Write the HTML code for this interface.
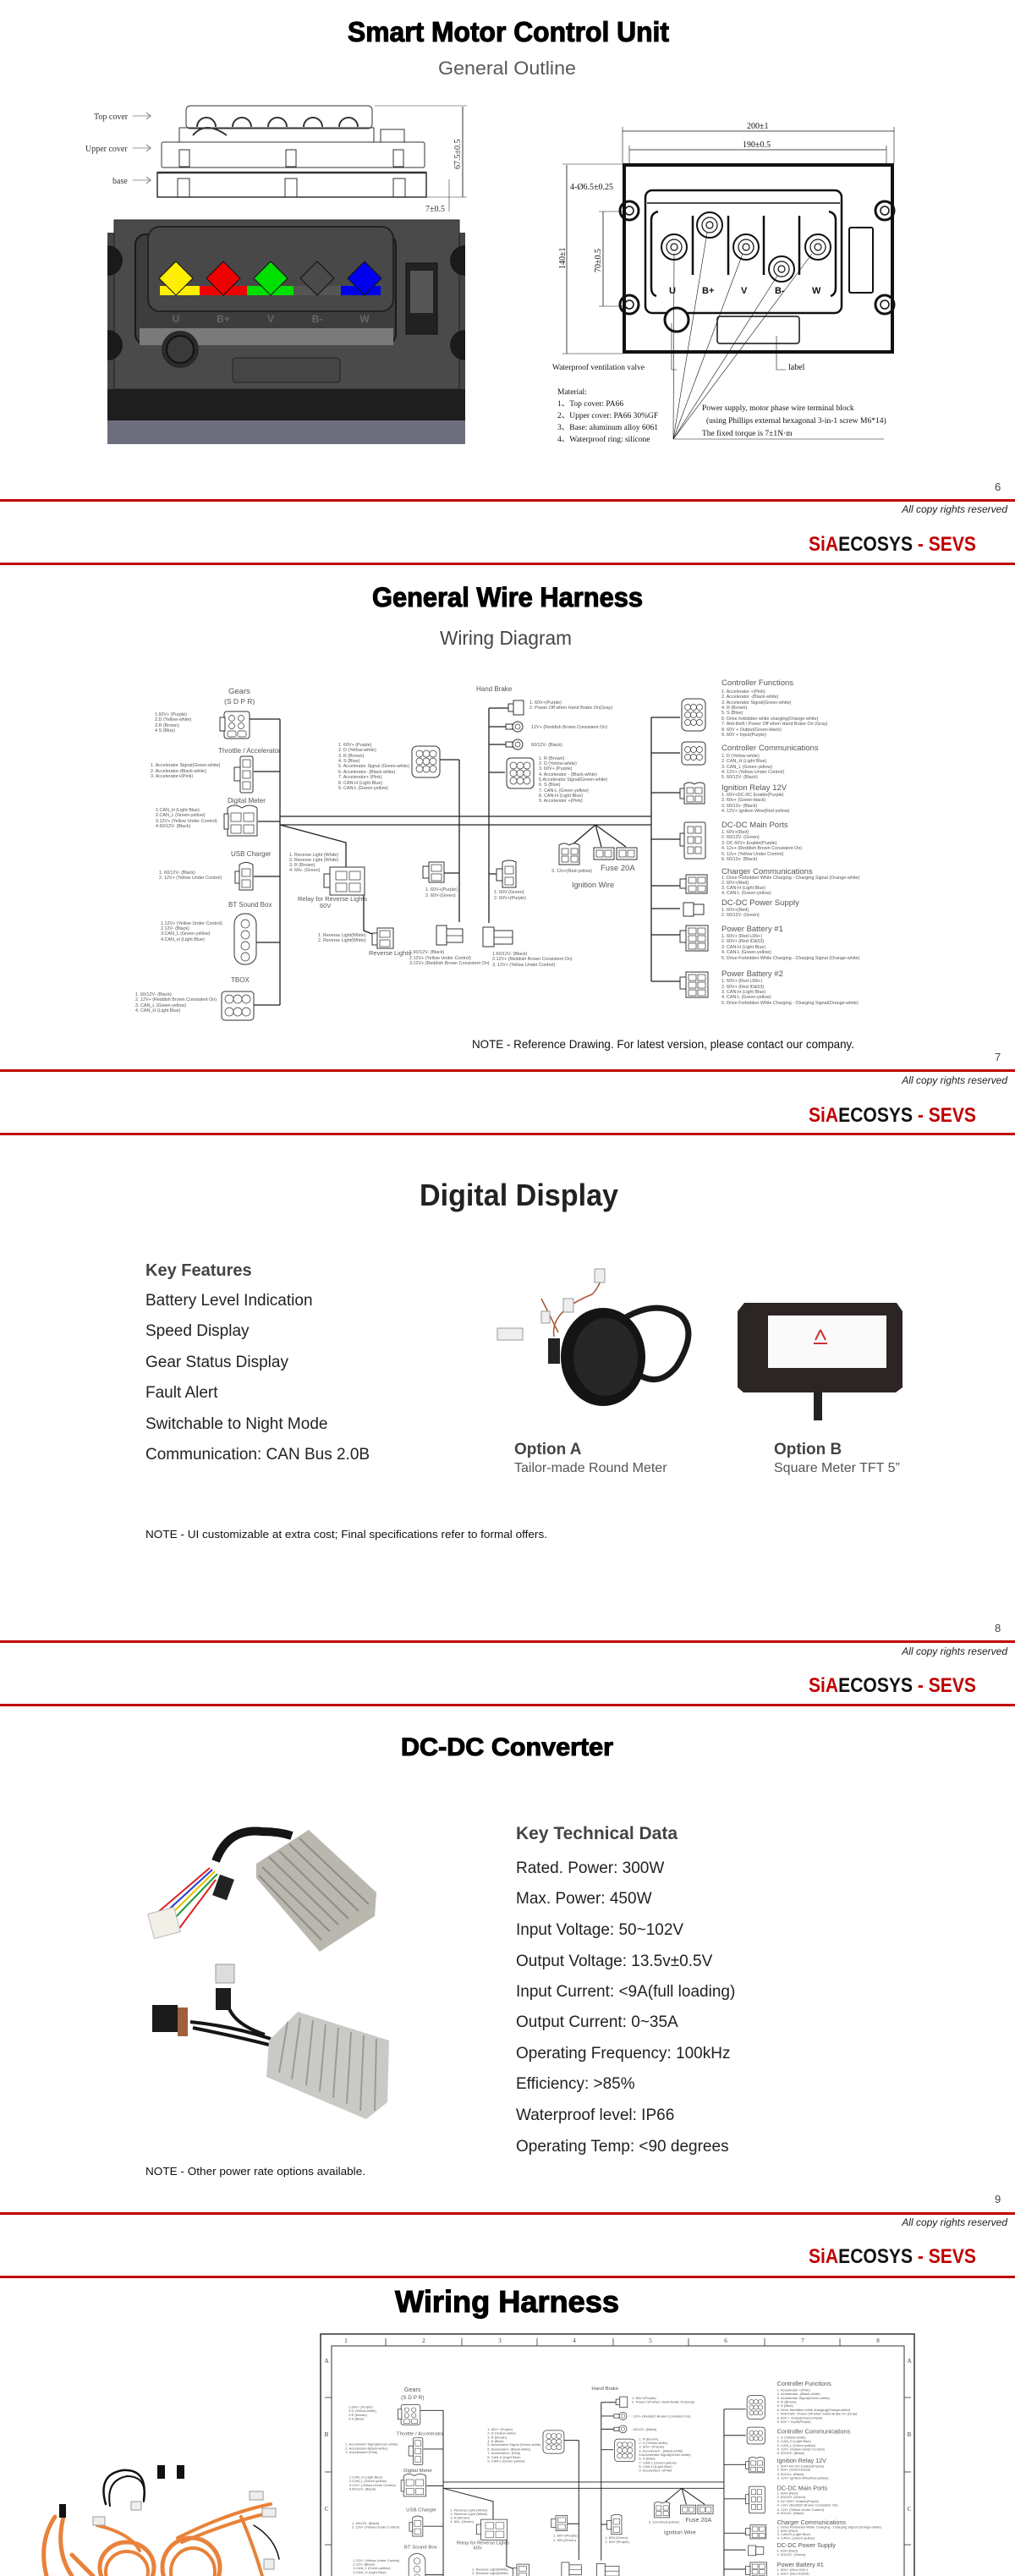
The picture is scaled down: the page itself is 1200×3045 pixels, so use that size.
<!DOCTYPE html>
<html><head><meta charset="utf-8">
<style>
html,body{margin:0;padding:0;background:#fff;}
svg{display:block;}
.t{font-family:"Liberation Sans",sans-serif;}
.s{font-family:"Liberation Serif",serif;}
.h{font-family:"Liberation Sans",sans-serif;font-weight:bold;}
.hv{stroke:#000;stroke-width:1.1;}
.it{font-family:"Liberation Sans",sans-serif;font-size:5.4px;fill:#555;}
.tt{font-family:"Liberation Sans",sans-serif;font-size:9.5px;fill:#555;}
.ln{stroke:#222;stroke-width:1.3;fill:none;}
.cn{stroke:#333;stroke-width:1;fill:#fff;}
.cs{stroke:#333;stroke-width:.7;fill:#fff;}
</style></head>
<body>
<svg width="1200" height="3045" viewBox="0 0 1200 3045" xmlns="http://www.w3.org/2000/svg">
<defs>
<clipPath id="fr"><rect x="392" y="2773" width="677" height="272"/></clipPath>
</defs>

<!-- ============ PAGE 1 ============ -->
<text class="h hv" x="411" y="49" font-size="33" textLength="380" lengthAdjust="spacingAndGlyphs" fill="#000">Smart Motor Control Unit</text>
<text class="t" x="518" y="88" font-size="22" textLength="163" lengthAdjust="spacingAndGlyphs" fill="#595959">General Outline</text>

<!-- side view drawing -->
<g stroke="#333" stroke-width="1" fill="none">
<rect x="220" y="125" width="220" height="27" rx="5"/>
<path d="M233 150 a11 11 0 0 1 22 0 M275 150 a11 11 0 0 1 22 0 M317 150 a11 11 0 0 1 22 0 M359 150 a11 11 0 0 1 22 0 M401 150 a11 11 0 0 1 22 0" stroke-width="2"/>
<rect x="212" y="151" width="230" height="17"/>
<rect x="450" y="153" width="28" height="15"/>
<rect x="191" y="168" width="311" height="30" rx="2"/>
<rect x="186" y="204" width="318" height="29" stroke-width="1.5"/>
<line x1="186" y1="204" x2="504" y2="204" stroke-width="2.5"/>
<rect x="212" y="177" width="12" height="20"/><rect x="338" y="177" width="12" height="20"/><rect x="465" y="177" width="12" height="20"/>
<rect x="210" y="211" width="14" height="22"/><rect x="337" y="211" width="14" height="22"/><rect x="465" y="211" width="14" height="22"/>
<path d="M228 160 q15 -18 40 0" stroke-width="2"/>
<line x1="443" y1="125" x2="552" y2="125" stroke-width=".6"/>
<line x1="504" y1="233" x2="552" y2="233" stroke-width=".6"/>
<line x1="547" y1="126" x2="547" y2="233"/>
<line x1="531" y1="212" x2="531" y2="250" stroke-width=".6"/>
<line x1="157" y1="137" x2="178" y2="137" stroke-width=".6"/><path d="M173 133 L178 137 L173 141" stroke-width=".6"/>
<line x1="157" y1="175" x2="178" y2="175" stroke-width=".6"/><path d="M173 171 L178 175 L173 179" stroke-width=".6"/>
<line x1="157" y1="213" x2="178" y2="213" stroke-width=".6"/><path d="M173 209 L178 213 L173 217" stroke-width=".6"/>
</g>
<text class="s" x="111" y="141" font-size="10" fill="#333">Top cover</text>
<text class="s" x="101" y="179" font-size="10" fill="#333">Upper cover</text>
<text class="s" x="133" y="217" font-size="10" fill="#333">base</text>
<text class="s" font-size="10" fill="#333" transform="translate(544,200) rotate(-90)">67.5±0.5</text>
<text class="s" x="503" y="250" font-size="10" fill="#333">7±0.5</text>

<!-- dark controller -->
<rect x="127" y="275" width="423" height="250" fill="#444"/>
<rect x="135" y="260" width="408" height="200" fill="#4a4a4a" stroke="#222"/>
<rect x="127" y="460" width="423" height="37" fill="#1e1e1e"/>
<rect x="127" y="497" width="423" height="28" fill="#6d6f7e"/>
<rect x="160" y="277" width="308" height="130" rx="12" fill="#3d3d3d" stroke="#1a1a1a" stroke-width="2"/>
<rect x="175" y="268" width="290" height="100" rx="14" fill="#484848" stroke="#222" stroke-width="2"/>
<rect x="165" y="388" width="300" height="20" fill="#7a7a7a"/>
<rect x="189" y="338" width="47" height="11" fill="#ffee00"/>
<rect x="236" y="338" width="56" height="11" fill="#f00000"/>
<rect x="292" y="338" width="55" height="11" fill="#00e000"/>
<rect x="347" y="338" width="56" height="11" fill="#555"/>
<rect x="403" y="338" width="47" height="11" fill="#0000ee"/>
<g stroke="#111" stroke-width="1">
<path d="M208 309 l20 20 l-20 20 l-20 -20z" fill="#ffee00"/>
<path d="M264 309 l20 20 l-20 20 l-20 -20z" fill="#f00000"/>
<path d="M320 309 l20 20 l-20 20 l-20 -20z" fill="#00e000"/>
<path d="M375 309 l20 20 l-20 20 l-20 -20z" fill="#4a4a4a"/>
<path d="M431 309 l20 20 l-20 20 l-20 -20z" fill="#0000ee"/>
</g>
<g class="t" font-size="12" font-weight="bold" fill="#666" text-anchor="middle">
<text x="208" y="381">U</text><text x="264" y="381">B+</text><text x="320" y="381">V</text><text x="375" y="381">B-</text><text x="431" y="381">W</text>
</g>
<rect x="480" y="311" width="37" height="84" fill="#222" stroke="#111"/>
<rect x="485" y="320" width="27" height="50" fill="#555"/>
<circle cx="213" cy="413" r="22" fill="#2a2a2a"/><circle cx="213" cy="413" r="16" fill="#3a3a3a" stroke="#111" stroke-width="2"/>
<rect x="275" y="423" width="127" height="29" rx="4" fill="#454545" stroke="#222"/>
<path d="M127 290 a18 18 0 0 1 18 18 a18 18 0 0 1 -18 18z M127 390 a18 18 0 0 1 18 18 a18 18 0 0 1 -18 18z M550 290 a18 18 0 0 0 -18 18 a18 18 0 0 0 18 18z M550 390 a18 18 0 0 0 -18 18 a18 18 0 0 0 18 18z" fill="#1a1a1a"/>

<!-- technical drawing -->
<g stroke="#111" fill="none">
<rect x="738" y="195" width="317" height="221" stroke-width="4"/>
<rect x="763" y="225" width="232" height="145" rx="8" stroke-width="2.5"/>
<line x1="765" y1="240" x2="993" y2="240" stroke-width="1.5"/>
<line x1="736" y1="155" x2="1057" y2="155" stroke-width=".8"/>
<line x1="744" y1="177" x2="1048" y2="177" stroke-width=".8"/>
<line x1="736" y1="150" x2="736" y2="193" stroke-width=".6"/><line x1="1057" y1="150" x2="1057" y2="193" stroke-width=".6"/>
<line x1="744" y1="172" x2="744" y2="193" stroke-width=".6"/><line x1="1048" y1="172" x2="1048" y2="193" stroke-width=".6"/>
<line x1="670" y1="195" x2="670" y2="418" stroke-width=".8"/>
<line x1="665" y1="194" x2="736" y2="194" stroke-width=".5"/><line x1="665" y1="418" x2="736" y2="418" stroke-width=".5"/>
<line x1="713" y1="250" x2="713" y2="362" stroke-width=".8"/>
<line x1="708" y1="250" x2="740" y2="250" stroke-width=".5"/><line x1="708" y1="362" x2="740" y2="362" stroke-width=".5"/>
<g stroke-width="2"><circle cx="797" cy="292" r="15"/><circle cx="839" cy="266" r="15"/><circle cx="882" cy="292" r="15"/><circle cx="924" cy="318" r="15"/><circle cx="967" cy="292" r="15"/></g>
<g stroke-width="1.2"><circle cx="797" cy="292" r="9"/><circle cx="839" cy="266" r="9"/><circle cx="882" cy="292" r="9"/><circle cx="924" cy="318" r="9"/><circle cx="967" cy="292" r="9"/>
<circle cx="797" cy="292" r="4"/><circle cx="839" cy="266" r="4"/><circle cx="882" cy="292" r="4"/><circle cx="924" cy="318" r="4"/><circle cx="967" cy="292" r="4"/></g>
<line x1="819" y1="255" x2="819" y2="325" stroke-width="2.5"/><line x1="861" y1="255" x2="861" y2="325" stroke-width="2.5"/><line x1="903" y1="255" x2="903" y2="325" stroke-width="2.5"/><line x1="945" y1="255" x2="945" y2="325" stroke-width="2.5"/>
<path d="M778 250 q-8 2 -8 10 v80 q0 8 6 10" stroke-width="2.5"/><path d="M980 250 q8 2 8 10 v80 q0 8 -6 10" stroke-width="2.5"/>
<rect x="1004" y="269" width="28" height="77" rx="2" stroke-width="2"/>
<g stroke-width="3"><circle cx="744" cy="249" r="11"/><circle cx="744" cy="360" r="11"/><circle cx="1046" cy="249" r="11"/><circle cx="1046" cy="360" r="11"/></g>
<g stroke-width="1.5"><circle cx="744" cy="249" r="5"/><circle cx="744" cy="360" r="5"/><circle cx="1046" cy="249" r="5"/><circle cx="1046" cy="360" r="5"/></g>
<circle cx="800" cy="378" r="14" stroke-width="3" fill="#fff"/>
<rect x="848" y="374" width="97" height="32" rx="3" stroke-width="1.5"/>
<g stroke-width=".6"><line x1="796" y1="519" x2="797" y2="300"/><line x1="796" y1="519" x2="836" y2="275"/><line x1="796" y1="519" x2="878" y2="300"/><line x1="796" y1="519" x2="919" y2="326"/><line x1="796" y1="519" x2="960" y2="300"/><line x1="796" y1="519" x2="1045" y2="519"/>
<path d="M800 437 h-6 v-55"/><path d="M929 437 h-11 v-40"/></g>
</g>
<g class="t" font-size="11" font-weight="bold" fill="#111"><text x="791" y="347">U</text><text x="830" y="347">B+</text><text x="876" y="347">V</text><text x="916" y="347">B-</text><text x="960" y="347">W</text></g>
<g class="s" font-size="10" fill="#111">
<text x="883" y="152">200±1</text><text x="878" y="174">190±0.5</text>
<text x="674" y="224">4-Ø6.5±0.25</text>
<text transform="translate(668,318) rotate(-90)">140±1</text>
<text transform="translate(710,322) rotate(-90)">70±0.5</text>
<text x="653" y="437" font-size="9.5">Waterproof ventilation valve</text>
<text x="932" y="437">label</text>
<text x="659" y="466" font-size="9.5">Material:</text>
<text x="659" y="480" font-size="9.5">1、Top cover: PA66</text>
<text x="659" y="494" font-size="9.5">2、Upper cover: PA66 30%GF</text>
<text x="659" y="508" font-size="9.5">3、Base: aluminum alloy 6061</text>
<text x="659" y="522" font-size="9.5">4、Waterproof ring: silicone</text>
<text x="830" y="485" font-size="9.5">Power supply, motor phase wire terminal block</text>
<text x="835" y="500" font-size="9.5">(using Phillips external hexagonal 3-in-1 screw M6*14)</text>
<text x="830" y="515" font-size="9.5">The fixed torque is 7±1N·m</text>
</g>

<!-- footers -->
<g id="footers">
<g class="t" font-size="13" fill="#444"><text x="1176" y="580">6</text><text x="1176" y="1254">7</text><text x="1176" y="1929">8</text><text x="1176" y="2604">9</text></g>
<g fill="#c00000">
<rect x="0" y="590" width="1200" height="3"/><rect x="0" y="665" width="1200" height="3"/>
<rect x="0" y="1264" width="1200" height="3"/><rect x="0" y="1339" width="1200" height="3"/>
<rect x="0" y="1939" width="1200" height="3"/><rect x="0" y="2014" width="1200" height="3"/>
<rect x="0" y="2615" width="1200" height="3"/><rect x="0" y="2690" width="1200" height="3"/>
</g>
<g class="t" font-size="12" font-style="italic" fill="#222" text-anchor="end">
<text x="1191" y="606">All copy rights reserved</text><text x="1191" y="1281">All copy rights reserved</text>
<text x="1191" y="1956">All copy rights reserved</text><text x="1191" y="2631">All copy rights reserved</text>
</g>
<g class="h" font-size="24">
<text x="956" y="651" textLength="198" lengthAdjust="spacingAndGlyphs"><tspan fill="#c00000">SiA</tspan><tspan fill="#111">ECOSYS</tspan><tspan fill="#c00000"> - SEVS</tspan></text>
<text x="956" y="1326" textLength="198" lengthAdjust="spacingAndGlyphs"><tspan fill="#c00000">SiA</tspan><tspan fill="#111">ECOSYS</tspan><tspan fill="#c00000"> - SEVS</tspan></text>
<text x="956" y="2000" textLength="198" lengthAdjust="spacingAndGlyphs"><tspan fill="#c00000">SiA</tspan><tspan fill="#111">ECOSYS</tspan><tspan fill="#c00000"> - SEVS</tspan></text>
<text x="956" y="2675" textLength="198" lengthAdjust="spacingAndGlyphs"><tspan fill="#c00000">SiA</tspan><tspan fill="#111">ECOSYS</tspan><tspan fill="#c00000"> - SEVS</tspan></text>
</g>
</g>

<!-- ============ PAGE 2 ============ -->
<text class="h hv" x="440" y="717" font-size="32" textLength="320" lengthAdjust="spacingAndGlyphs" fill="#000">General Wire Harness</text>
<text class="t" x="520" y="762" font-size="23" textLength="156" lengthAdjust="spacingAndGlyphs" fill="#444">Wiring Diagram</text>

<g id="diag">
<g class="ln">
<path d="M331 850 V1188"/>
<path d="M295 850 H331 M300 912 H331 M305 971 H331 M300 1036 H331 M302 1114 H331 M300 1188 H331"/>
<path d="M331 965 H770 M331 975 H770"/>
<path d="M331 975 L409 996 V1026"/>
<path d="M430 1058 V1100 L440 1104"/>
<path d="M543 898 V1090 M520 898 H543 M525 1032 H543"/>
<path d="M578 837 V1091 M578 837 H601 M578 859 H598 M578 880 H598 M578 913 H597 M578 1033 H587"/>
<path d="M770 848 V1160 M770 848 H804 M770 890 H804 M770 937 H804 M770 992 H804 M770 1047 H804 M770 1074 H804 M770 1105 H804 M770 1160 H804"/>
<path d="M704 975 L676 999 M704 975 L711 1001 M704 975 L740 1001"/>
</g>
<!-- left connectors -->
<rect class="cn" x="265" y="841" width="30" height="32" rx="3"/><rect class="cn" x="260" y="848" width="6" height="16"/>
<g class="cs"><circle cx="274" cy="849" r="3.5"/><circle cx="285" cy="849" r="3.5"/><circle cx="274" cy="858" r="3.5"/><circle cx="285" cy="858" r="3.5"/><rect x="269" y="864" width="10" height="7" rx="2"/><rect x="281" y="864" width="10" height="7" rx="2"/></g>
<rect class="cn" x="284" y="894" width="15" height="43" rx="2"/><rect class="cn" x="277" y="907" width="7" height="16"/>
<g class="cs"><rect x="287" y="898" width="9" height="9"/><rect x="287" y="911" width="9" height="9"/><rect x="287" y="924" width="9" height="9"/></g>
<path class="cn" d="M269 955 q8 -6 17 0 q9 -6 18 0 v33 h-35z"/><rect class="cn" x="265" y="962" width="5" height="18"/>
<g class="cs"><rect x="273" y="961" width="12" height="10"/><rect x="288" y="961" width="12" height="10"/><rect x="273" y="975" width="12" height="10"/><rect x="288" y="975" width="12" height="10"/></g>
<path class="cn" d="M283 1022 q8 -5 16 0 v30 h-16z"/><rect class="cn" x="278" y="1030" width="5" height="14"/>
<g class="cs"><rect x="286" y="1027" width="10" height="9"/><rect x="286" y="1040" width="10" height="9"/></g>
<rect class="cn" x="277" y="1080" width="26" height="60" rx="12"/>
<g class="cs"><circle cx="290" cy="1092" r="5"/><circle cx="290" cy="1105" r="5"/><circle cx="290" cy="1118" r="5"/><circle cx="290" cy="1131" r="5"/></g>
<rect class="cn" x="262" y="1172" width="38" height="34" rx="4"/>
<g class="cs"><circle cx="271" cy="1181" r="5"/><circle cx="281" cy="1181" r="5"/><circle cx="291" cy="1181" r="5"/><circle cx="271" cy="1196" r="5"/><circle cx="281" cy="1196" r="5"/><circle cx="291" cy="1196" r="5"/></g>
<!-- middle -->
<rect class="cn" x="487" y="882" width="33" height="37" rx="6"/>
<g class="cs"><circle cx="496" cy="891" r="4"/><circle cx="504" cy="891" r="4"/><circle cx="512" cy="891" r="4"/><circle cx="496" cy="900" r="4"/><circle cx="504" cy="900" r="4"/><circle cx="512" cy="900" r="4"/><circle cx="496" cy="909" r="4"/><circle cx="504" cy="909" r="4"/><circle cx="512" cy="909" r="4"/></g>
<rect class="cn" x="607" y="828" width="12" height="17"/><rect class="cn" x="601" y="832" width="6" height="9"/>
<circle class="cn" cx="612" cy="859" r="6"/><circle class="cs" cx="612" cy="859" r="3"/><rect class="cn" x="598" y="856" width="8" height="6"/>
<circle class="cn" cx="612" cy="880" r="6"/><circle class="cs" cx="612" cy="880" r="3"/><rect class="cn" x="598" y="877" width="8" height="6"/>
<rect class="cn" x="599" y="896" width="32" height="36" rx="5"/>
<g class="cs"><circle cx="607" cy="905" r="4"/><circle cx="615" cy="905" r="4"/><circle cx="623" cy="905" r="4"/><circle cx="607" cy="914" r="4"/><circle cx="615" cy="914" r="4"/><circle cx="623" cy="914" r="4"/><circle cx="607" cy="923" r="4"/><circle cx="615" cy="923" r="4"/><circle cx="623" cy="923" r="4"/></g>
<rect class="cn" x="390" y="1025" width="41" height="33"/><rect class="cn" x="383" y="1033" width="7" height="16"/>
<g class="cs"><rect x="397" y="1030" width="13" height="10"/><rect x="413" y="1030" width="13" height="10"/><rect x="397" y="1044" width="13" height="10"/><rect x="413" y="1044" width="13" height="10"/></g>
<rect class="cn" x="446" y="1097" width="19" height="24"/><rect class="cn" x="440" y="1103" width="6" height="14"/>
<g class="cs"><rect x="449" y="1100" width="12" height="8"/><rect x="449" y="1111" width="12" height="8"/></g>
<rect class="cn" x="507" y="1019" width="18" height="24"/><rect class="cn" x="500" y="1024" width="7" height="14"/>
<g class="cs"><rect x="510" y="1022" width="12" height="8"/><rect x="510" y="1033" width="12" height="8"/></g>
<path class="cn" d="M594 1019 q8 -4 16 0 v30 h-16z"/><rect class="cn" x="587" y="1027" width="7" height="14"/>
<g class="cs"><rect x="597" y="1024" width="10" height="9"/><rect x="597" y="1037" width="10" height="9"/></g>
<rect class="cn" x="516" y="1094" width="12" height="23"/><rect class="cn" x="528" y="1098" width="19" height="16"/><line class="cs" x1="528" y1="1106" x2="547" y2="1106"/>
<rect class="cn" x="571" y="1096" width="13" height="23"/><rect class="cn" x="584" y="1100" width="22" height="16"/><line class="cs" x1="584" y1="1108" x2="606" y2="1108"/>
<path class="cn" d="M661 999 q6 -4 12 0 q6 -4 12 0 v23 h-24z"/>
<g class="cs"><rect x="664" y="1003" width="8" height="7"/><rect x="675" y="1003" width="8" height="7"/><rect x="664" y="1012" width="8" height="7"/><rect x="675" y="1012" width="8" height="7"/></g>
<rect class="cn" x="702" y="1002" width="24" height="14"/><rect class="cs" x="705" y="1005" width="8" height="8"/><rect class="cs" x="715" y="1005" width="8" height="8"/>
<rect class="cn" x="729" y="1002" width="24" height="14"/><rect class="cs" x="732" y="1005" width="8" height="8"/><rect class="cs" x="742" y="1005" width="8" height="8"/>
<!-- right connectors -->
<rect class="cn" x="806" y="826" width="28" height="38" rx="6"/>
<g class="cs"><circle cx="813" cy="836" r="3.5"/><circle cx="820" cy="836" r="3.5"/><circle cx="827" cy="836" r="3.5"/><circle cx="813" cy="845" r="3.5"/><circle cx="820" cy="845" r="3.5"/><circle cx="827" cy="845" r="3.5"/><circle cx="813" cy="854" r="3.5"/><circle cx="820" cy="854" r="3.5"/><circle cx="827" cy="854" r="3.5"/></g>
<rect class="cn" x="806" y="877" width="28" height="27" rx="4"/>
<g class="cs"><circle cx="813" cy="886" r="3.5"/><circle cx="820" cy="886" r="3.5"/><circle cx="827" cy="886" r="3.5"/><circle cx="813" cy="895" r="3.5"/><circle cx="820" cy="895" r="3.5"/><circle cx="827" cy="895" r="3.5"/></g>
<path class="cn" d="M809 927 q6 -4 12 0 q6 -4 12 0 v23 h-24z"/><rect class="cn" x="804" y="932" width="5" height="12"/>
<g class="cs"><rect x="812" y="931" width="8" height="7"/><rect x="822" y="931" width="8" height="7"/><rect x="812" y="941" width="8" height="7"/><rect x="822" y="941" width="8" height="7"/></g>
<rect class="cn" x="809" y="972" width="25" height="43" rx="2"/><rect class="cn" x="804" y="985" width="5" height="15"/>
<g class="cs"><rect x="813" y="977" width="7" height="8"/><rect x="822" y="977" width="7" height="8"/><rect x="813" y="989" width="7" height="8"/><rect x="822" y="989" width="7" height="8"/><rect x="813" y="1001" width="7" height="8"/><rect x="822" y="1001" width="7" height="8"/></g>
<rect class="cn" x="811" y="1034" width="25" height="22"/><rect class="cn" x="804" y="1039" width="7" height="11"/>
<g class="cs"><rect x="814" y="1037" width="9" height="7"/><rect x="825" y="1037" width="9" height="7"/><rect x="814" y="1047" width="9" height="7"/><rect x="825" y="1047" width="9" height="7"/></g>
<rect class="cn" x="808" y="1067" width="12" height="16"/><rect class="cn" x="820" y="1069" width="12" height="12"/>
<rect class="cn" x="811" y="1094" width="26" height="30"/><rect class="cn" x="804" y="1100" width="7" height="14"/>
<g class="cs"><rect x="814" y="1097" width="9" height="7"/><rect x="825" y="1097" width="9" height="7"/><rect x="814" y="1106" width="9" height="7"/><rect x="825" y="1106" width="9" height="7"/><rect x="814" y="1115" width="9" height="7"/><rect x="825" y="1115" width="9" height="7"/></g>
<rect class="cn" x="811" y="1149" width="26" height="30"/><rect class="cn" x="804" y="1155" width="7" height="14"/>
<g class="cs"><rect x="814" y="1152" width="9" height="7"/><rect x="825" y="1152" width="9" height="7"/><rect x="814" y="1161" width="9" height="7"/><rect x="825" y="1161" width="9" height="7"/><rect x="814" y="1170" width="9" height="7"/><rect x="825" y="1170" width="9" height="7"/></g>

<!-- labels -->
<g class="tt">
<text x="270" y="820">Gears</text><text x="265" y="832" font-size="8.5">(S D P R)</text>
<text x="258" y="890" font-size="8">Throttle / Accelerator</text>
<text x="269" y="949" font-size="8">Digital Meter</text>
<text x="273" y="1012" font-size="8">USB Charger</text>
<text x="270" y="1072" font-size="8">BT Sound Box</text>
<text x="273" y="1161" font-size="8">TBOX</text>
<text x="563" y="817" font-size="8">Hand Brake</text>
<text x="352" y="1065" font-size="7.5">Relay for Reverse Lights</text><text x="378" y="1073" font-size="7.5">60V</text>
<text x="436" y="1129" font-size="7.5">Reverse Lights</text>
<text x="710" y="1029">Fuse 20A</text>
<text x="676" y="1049" font-size="9">Ignition Wire</text>
<text x="853" y="810">Controller Functions</text>
<text x="853" y="887">Controller Communications</text>
<text x="853" y="934">Ignition Relay 12V</text>
<text x="853" y="978">DC-DC Main Ports</text>
<text x="853" y="1033">Charger Communications</text>
<text x="853" y="1070">DC-DC Power Supply</text>
<text x="853" y="1101">Power Battery #1</text>
<text x="853" y="1154">Power Battery #2</text>
</g>
<g class="it">
<text x="183" y="846">1.60V+ (Purple)</text><text x="183" y="852">2.D (Yellow-white)</text><text x="183" y="859">3.R (Brown)</text><text x="183" y="865">4.S (Blue)</text>
<text x="178" y="906">1. Accelerator Signal(Green-white)</text><text x="178" y="913">2. Accelerator-(Black-white)</text><text x="178" y="919">3. Accelerator+(Pink)</text>
<text x="184" y="959">1.CAN_H (Light Blue)</text><text x="184" y="965">2.CAN_L (Green-yellow)</text><text x="184" y="972">3.12V+ (Yellow Under Control)</text><text x="184" y="978">4.60/12V- (Black)</text>
<text x="188" y="1033">1. 60/12V- (Black)</text><text x="188" y="1039">2. 12V+ (Yellow Under Control)</text>
<text x="190" y="1093">1.12V+ (Yellow Under Control)</text><text x="190" y="1099">2.12V- (Black)</text><text x="190" y="1105">3.CAN_L (Green-yellow)</text><text x="190" y="1112">4.CAN_H (Light Blue)</text>
<text x="160" y="1177">1. 60/12V- (Black)</text><text x="160" y="1183">2. 12V+ (Reddish Brown Consistent On)</text><text x="160" y="1190">3. CAN_L (Green-yellow)</text><text x="160" y="1196">4. CAN_H (Light Blue)</text>
<text x="400" y="882">1. 60V+ (Purple)</text><text x="400" y="888">2. D (Yellow-white)</text><text x="400" y="895">3. R (Brown)</text><text x="400" y="901">4. S (Blue)</text><text x="400" y="907">5. Accelerator Signal (Green-white)</text><text x="400" y="914">6. Accelerator- (Black-white)</text><text x="400" y="920">7. Accelerator+ (Pink)</text><text x="400" y="927">8. CAN-H (Light Blue)</text><text x="400" y="933">9. CAN-L (Green-yellow)</text>
<text x="626" y="832">1. 60V+(Purple)</text><text x="626" y="838">2. Power Off when Hand Brake On(Gray)</text>
<text x="628" y="861">12V+ (Reddish Brown Consistent On)</text><text x="628" y="882">60/12V- (Black)</text>
<text x="637" y="898">1. R (Brown)</text><text x="637" y="904">2. D (Yellow-white)</text><text x="637" y="910">3. 60V+ (Purple)</text><text x="637" y="917">4. Accelerator - (Black-white)</text><text x="637" y="923">5.Accelerator Signal(Green-white)</text><text x="637" y="929">6. S (Blue)</text><text x="637" y="936">7. CAN-L (Green-yellow)</text><text x="637" y="942">8. CAN-H (Light Blue)</text><text x="637" y="948">9. Accelerator +(Pink)</text>
<text x="342" y="1012">1. Reverse Light (White)</text><text x="342" y="1018">2. Reverse Light (White)</text><text x="342" y="1024">3. R (Brown)</text><text x="342" y="1030">4. 60v- (Green)</text>
<text x="376" y="1107">1. Reverse Light(White)</text><text x="376" y="1113">2. Reverse Light(White)</text>
<text x="503" y="1053">1. 60V+(Purple)</text><text x="503" y="1060">2. 60V-(Green)</text>
<text x="584" y="1056">1. 60V-(Green)</text><text x="584" y="1063">2. 60V+(Purple)</text>
<text x="484" y="1127">1.60/12V- (Black)</text><text x="484" y="1134">2.12V+ (Yellow Under Control)</text><text x="484" y="1140">3.12V+ (Reddish Brown Consistent On)</text>
<text x="582" y="1129">1.60/12V- (Black)</text><text x="582" y="1135">2.12V+ (Reddish Brown Consistent On)</text><text x="582" y="1142">3. 12V+ (Yellow Under Control)</text>
<text x="652" y="1031">3. 12v+(Red-yellow)</text>
<text x="853" y="819">1. Accelerator +(Pink)</text><text x="853" y="825">2. Accelerator -(Black-white)</text><text x="853" y="832">3. Accelerator Signal(Green-white)</text><text x="853" y="838">4. R (Brown)</text><text x="853" y="844">5. S (Blue)</text><text x="853" y="851">6. Drive forbidden while charging(Orange-white)</text><text x="853" y="857">7. Anti-theft / Power Off when Hand Brake On (Gray)</text><text x="853" y="864">8. 60V + Output(Green-black)</text><text x="853" y="870">9. 60V + Input(Purple)</text>
<text x="853" y="895">1. D (Yellow-white)</text><text x="853" y="901">2. CAN_H (Light Blue)</text><text x="853" y="908">3. CAN_L (Green-yellow)</text><text x="853" y="914">4. 12V+ (Yellow Under Control)</text><text x="853" y="920">5. 60/12V- (Black)</text>
<text x="853" y="941">1. 60V+DC-DC Enable(Purple)</text><text x="853" y="947">2. 60v+ (Green-black)</text><text x="853" y="954">3. 60/12v- (Black)</text><text x="853" y="960">4. 12V+ Ignition Wire(Red-yellow)</text>
<text x="853" y="985">1. 60V+(Red)</text><text x="853" y="991">2. 60/12V- (Green)</text><text x="853" y="998">3. DC 60V+ Enable(Purple)</text><text x="853" y="1004">4. 12v+ (Reddish Brown Consistent On)</text><text x="853" y="1011">5. 12v+ (Yellow Under Control)</text><text x="853" y="1017">6. 60/12v- (Black)</text>
<text x="853" y="1039">1. Drive Forbidden While Charging - Charging Signal (Orange-white)</text><text x="853" y="1045">2. 60V+(Red)</text><text x="853" y="1051">3. CAN-H (Light Blue)</text><text x="853" y="1057">4. CAN-L (Green-yellow)</text>
<text x="853" y="1077">1. 60V+(Red)</text><text x="853" y="1083">2. 60/12V- (Green)</text>
<text x="853" y="1108">1. 60V+ (Red LD6+)</text><text x="853" y="1114">2. 60V+ (Red ID&amp;53)</text><text x="853" y="1121">3. CAN-H (Light Blue)</text><text x="853" y="1127">4. CAN-L (Green-yellow)</text><text x="853" y="1134">5. Drive Forbidden While Charging - Charging Signal (Orange-white)</text>
<text x="853" y="1161">1. 60V+ (Red LD6+)</text><text x="853" y="1168">2. 60V+ (Red ID&amp;53)</text><text x="853" y="1174">3. CAN-H (Light Blue)</text><text x="853" y="1180">4. CAN-L (Green-yellow)</text><text x="853" y="1187">5. Drive Forbidden While Charging - Charging Signal(Orange-white)</text>
</g>
</g>
<text class="t" x="558" y="1239" font-size="14" textLength="452" lengthAdjust="spacingAndGlyphs" fill="#111">NOTE - Reference Drawing. For latest version, please contact our company.</text>

<!-- ============ PAGE 3 ============ -->
<text class="h" x="496" y="1425" font-size="36" textLength="235" lengthAdjust="spacingAndGlyphs" fill="#222">Digital Display</text>
<text class="h" x="172" y="1508" font-size="20" fill="#444">Key Features</text>
<g class="t" font-size="19" fill="#222">
<text x="172" y="1543">Battery Level Indication</text>
<text x="172" y="1579">Speed Display</text>
<text x="172" y="1616">Gear Status Display</text>
<text x="172" y="1652">Fault Alert</text>
<text x="172" y="1689">Switchable to Night Mode</text>
<text x="172" y="1725">Communication: CAN Bus 2.0B</text>
</g>
<!-- round meter -->
<path d="M735 1560 q40 -25 70 -5 q20 20 -5 60 q-20 25 -45 10" stroke="#1a1a1a" stroke-width="7" fill="none"/>
<ellipse cx="713" cy="1604" rx="50" ry="58" fill="#141414"/>
<ellipse cx="716" cy="1604" rx="38" ry="46" fill="#262626"/>
<path d="M660 1575 q-10 -20 -20 -40 M655 1580 q-5 -30 45 -50 q10 -10 12 -25" stroke="#a53" stroke-width="1.5" fill="none"/>
<rect x="703" y="1500" width="12" height="16" fill="#eee" stroke="#999"/>
<rect x="666" y="1535" width="12" height="16" fill="#eee" stroke="#999"/>
<rect x="640" y="1550" width="10" height="14" fill="#eee" stroke="#999"/>
<rect x="588" y="1570" width="30" height="14" fill="#eee" stroke="#999"/>
<rect x="648" y="1582" width="14" height="30" fill="#222"/>
<!-- square meter -->
<path d="M880 1540 h180 l7 10 v90 l-8 6 h-180 l-7 -6 v-90z" fill="#2b2523"/>
<rect x="908" y="1555" width="140" height="62" fill="#fafafa"/>
<path d="M970 1572 l-6 12 M970 1572 l6 12 M962 1588 h16" stroke="#c33" stroke-width="2" fill="none"/>
<rect x="962" y="1646" width="10" height="33" fill="#222"/>

<text class="h" x="608" y="1719" font-size="19" fill="#444">Option A</text>
<text class="t" x="608" y="1740" font-size="16" fill="#555">Tailor-made Round Meter</text>
<text class="h" x="915" y="1719" font-size="19" fill="#444">Option B</text>
<text class="t" x="915" y="1740" font-size="16" fill="#555">Square Meter TFT 5”</text>
<text class="t" x="172" y="1818" font-size="13" textLength="475" lengthAdjust="spacingAndGlyphs" fill="#111">NOTE - UI customizable at extra cost; Final specifications refer to formal offers.</text>

<!-- ============ PAGE 4 ============ -->
<text class="h hv" x="474" y="2075" font-size="30" textLength="251" lengthAdjust="spacingAndGlyphs" fill="#000">DC-DC Converter</text>
<!-- top converter -->
<path d="M255 2200 q15 -40 55 -35 q20 0 35 5" stroke="#151515" stroke-width="10" fill="none"/>
<path d="M248 2208 l-62 53" stroke="#d22" stroke-width="2"/><path d="M251 2210 l-60 55" stroke="#2a3ad0" stroke-width="2"/><path d="M254 2212 l-58 57" stroke="#e5c400" stroke-width="2"/><path d="M257 2215 l-55 57" stroke="#1a9a3a" stroke-width="2"/><path d="M255 2222 l-45 60" stroke="#d22" stroke-width="2"/>
<rect x="255" y="2218" width="18" height="26" fill="#222" transform="rotate(20 264 2231)"/>
<rect x="178" y="2258" width="32" height="30" fill="#f2efe6" stroke="#bbb" transform="rotate(-15 194 2273)"/>
<polygon points="303,2203 365,2163 445,2237 443,2265 378,2307 303,2220" fill="#b9b7ae"/>
<g stroke="#8e8c84" stroke-width="2"><line x1="318" y1="2195" x2="400" y2="2275"/><line x1="330" y1="2188" x2="412" y2="2268"/><line x1="342" y1="2180" x2="424" y2="2259"/><line x1="354" y1="2173" x2="436" y2="2251"/><line x1="310" y1="2207" x2="390" y2="2283"/><line x1="306" y1="2217" x2="380" y2="2293"/></g>
<!-- bottom converter -->
<path d="M225 2390 q50 5 95 20 M228 2397 q50 10 90 20 M268 2360 q0 30 45 45" stroke="#151515" stroke-width="4" fill="none"/>
<rect x="180" y="2370" width="30" height="32" fill="#1a1a1a"/><rect x="210" y="2373" width="12" height="34" fill="#a0603a"/>
<rect x="255" y="2322" width="22" height="22" fill="#ddd" stroke="#999"/>
<rect x="255" y="2350" width="18" height="26" fill="#1d1d1d"/>
<polygon points="318,2412 352,2378 460,2412 458,2485 433,2505 315,2455" fill="#c9c9c6"/>
<g stroke="#9a9a97" stroke-width="2"><line x1="340" y1="2390" x2="330" y2="2450"/><line x1="355" y1="2385" x2="345" y2="2458"/><line x1="370" y1="2388" x2="362" y2="2465"/><line x1="385" y1="2393" x2="378" y2="2472"/><line x1="400" y1="2397" x2="394" y2="2480"/><line x1="415" y1="2402" x2="410" y2="2487"/><line x1="430" y1="2406" x2="426" y2="2495"/><line x1="445" y1="2410" x2="443" y2="2495"/></g>

<text class="h" x="610" y="2174" font-size="21" fill="#444">Key Technical Data</text>
<g class="t" font-size="19" fill="#222">
<text x="610" y="2214">Rated. Power: 300W</text>
<text x="610" y="2250">Max. Power: 450W</text>
<text x="610" y="2287">Input Voltage: 50~102V</text>
<text x="610" y="2324">Output Voltage: 13.5v±0.5V</text>
<text x="610" y="2360">Input Current: &lt;9A(full loading)</text>
<text x="610" y="2396">Output Current:  0~35A</text>
<text x="610" y="2433">Operating Frequency: 100kHz</text>
<text x="610" y="2469">Efficiency: &gt;85%</text>
<text x="610" y="2506">Waterproof level: IP66</text>
<text x="610" y="2543">Operating Temp: &lt;90 degrees</text>
</g>
<text class="t" x="172" y="2571" font-size="13" textLength="260" lengthAdjust="spacingAndGlyphs" fill="#111">NOTE - Other power rate options available.</text>

<!-- ============ PAGE 5 ============ -->
<text class="h hv" x="467" y="2733" font-size="36" textLength="265" lengthAdjust="spacingAndGlyphs" fill="#000">Wiring Harness</text>
<g fill="none" stroke="#333">
<rect x="379" y="2759" width="702" height="300" stroke-width="1.5"/>
<rect x="392" y="2773" width="677" height="290" stroke-width="1"/>
<g stroke-width=".8"><line x1="456" y1="2764" x2="456" y2="2773"/><line x1="546" y1="2764" x2="546" y2="2773"/><line x1="635" y1="2764" x2="635" y2="2773"/><line x1="725" y1="2764" x2="725" y2="2773"/><line x1="814" y1="2764" x2="814" y2="2773"/><line x1="904" y1="2764" x2="904" y2="2773"/><line x1="993" y1="2764" x2="993" y2="2773"/>
<line x1="384" y1="2834" x2="392" y2="2834"/><line x1="384" y1="2922" x2="392" y2="2922"/><line x1="384" y1="3008" x2="392" y2="3008"/>
<line x1="1069" y1="2834" x2="1077" y2="2834"/><line x1="1069" y1="2922" x2="1077" y2="2922"/><line x1="1069" y1="3008" x2="1077" y2="3008"/></g>
</g>
<g class="s" font-size="7" fill="#333" text-anchor="middle">
<text x="409" y="2769">1</text><text x="501" y="2769">2</text><text x="591" y="2769">3</text><text x="679" y="2769">4</text><text x="769" y="2769">5</text><text x="858" y="2769">6</text><text x="949" y="2769">7</text><text x="1038" y="2769">8</text>
<text x="386" y="2793">A</text><text x="386" y="2880">B</text><text x="386" y="2968">C</text>
<text x="1075" y="2793">A</text><text x="1075" y="2880">B</text><text x="1075" y="2968">C</text>
</g>
<g clip-path="url(#fr)"><use href="#diag" transform="translate(273.8,2223.7) scale(0.756,0.736)"/></g>

<!-- harness photo -->
<g fill="none" stroke-linecap="round">
<path d="M125 2960 q-10 -35 20 -40 q30 -2 25 35" stroke="#111" stroke-width="2.5"/>
<path d="M130 2962 q-5 -30 20 -35 q25 0 20 30" stroke="#111" stroke-width="2"/>
<path d="M65 2975 q-20 30 -10 70 M75 2975 q-10 40 10 70 M85 3020 q10 10 25 25" stroke="#e8823a" stroke-width="5"/>
<ellipse cx="150" cy="3035" rx="32" ry="30" stroke="#e8823a" stroke-width="5"/>
<ellipse cx="150" cy="3040" rx="25" ry="24" stroke="#e8823a" stroke-width="4"/>
<path d="M115 2985 q40 10 50 30" stroke="#e8823a" stroke-width="4"/>
<ellipse cx="226" cy="3035" rx="34" ry="35" stroke="#e8823a" stroke-width="5"/>
<ellipse cx="228" cy="3040" rx="26" ry="28" stroke="#e8823a" stroke-width="4"/>
<path d="M210 3000 q60 -30 110 -40 M215 3005 q60 -25 105 -35 M285 2975 q15 35 25 70" stroke="#e8823a" stroke-width="4"/>
<path d="M300 2985 q25 15 30 40" stroke="#111" stroke-width="1.5"/>
</g>
<rect x="186" y="2914" width="9" height="16" fill="#111"/><rect x="209" y="2914" width="9" height="16" fill="#111"/>
<rect x="70" y="2960" width="8" height="16" fill="#111"/>
<rect x="110" y="2975" width="14" height="10" fill="#eee" stroke="#999"/>
<rect x="155" y="2957" width="12" height="10" fill="#eee" stroke="#999"/>
<rect x="295" y="2945" width="16" height="10" fill="#eee" stroke="#999"/>
<rect x="310" y="2965" width="16" height="10" fill="#eee" stroke="#999"/>
<rect x="312" y="3025" width="12" height="12" fill="#eee" stroke="#999"/>
</svg>
</body></html>
